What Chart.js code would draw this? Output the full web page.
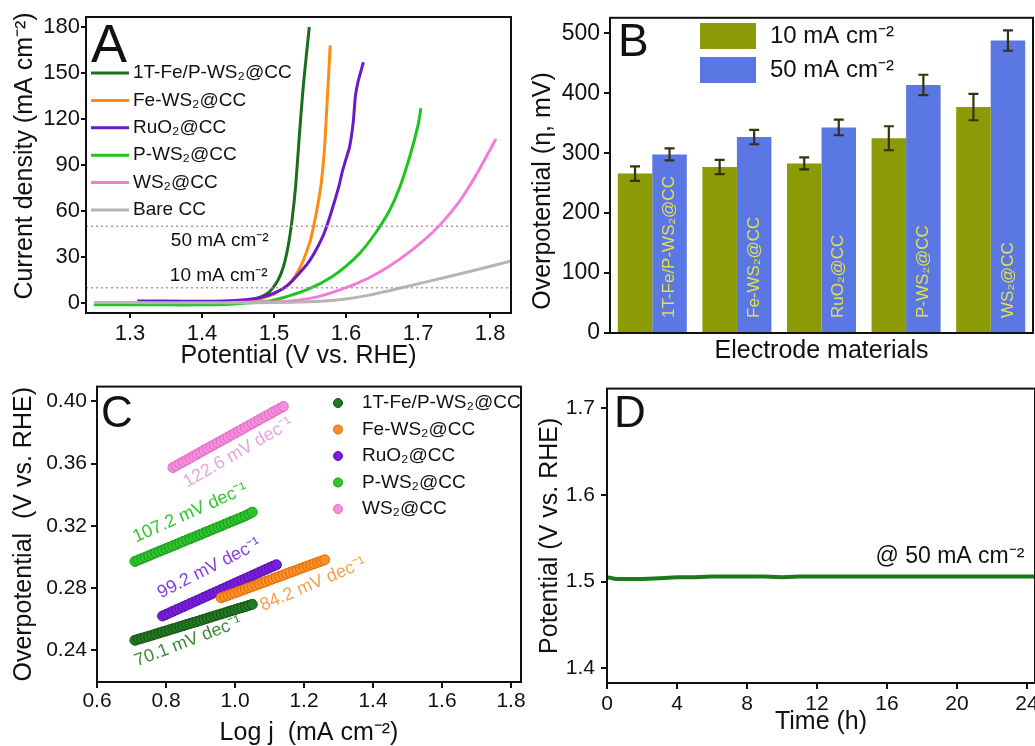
<!DOCTYPE html>
<html>
<head>
<meta charset="utf-8">
<script src="https://cdn.jsdelivr.net/npm/chart.js@4.4.1/dist/chart.umd.min.js"></script>
<style>
  html, body { margin: 0; padding: 0; background: #fff; }
  #fig { position: relative; width: 1035px; height: 746px; overflow: hidden; }
  canvas { position: absolute; }
</style>
</head>
<body>
<div id="fig">
  <canvas id="chartA" width="520" height="370" style="left:0;top:0"></canvas>
  <canvas id="chartB" width="515" height="370" style="left:520px;top:0"></canvas>
  <canvas id="chartC" width="530" height="376" style="left:0;top:370px"></canvas>
  <canvas id="chartD" width="515" height="376" style="left:530px;top:370px"></canvas>
</div>
<script>
// ========================================
// DATA
// ========================================
const names = ["1T-Fe/P-WS₂@CC", "Fe-WS₂@CC", "RuO₂@CC", "P-WS₂@CC", "WS₂@CC", "Bare CC"];

// --- A : LSV curves (V vs. RHE / mA cm-2)
const aV_FeP = [1.43, 1.45, 1.47, 1.48, 1.49, 1.495, 1.50, 1.505, 1.51, 1.515, 1.52, 1.525, 1.53, 1.535, 1.54, 1.545, 1.549];
const aJ_FeP = [0.3, 0.9, 2.2, 3.6, 6.0, 8.0, 10.8, 14.5, 19.5, 27, 38, 54, 76, 108, 138, 162, 180];
const aV_Fe = [1.44, 1.46, 1.48, 1.50, 1.51, 1.52, 1.53, 1.54, 1.55, 1.555, 1.56, 1.565, 1.57, 1.573, 1.576, 1.578];
const aJ_Fe = [0.4, 1.2, 2.6, 5.8, 8.6, 12, 18, 27, 40, 50, 62, 76, 100, 125, 150, 168];
const aV_Ru = [1.31, 1.35, 1.40, 1.43, 1.46, 1.48, 1.50, 1.52, 1.54, 1.55, 1.56, 1.57, 1.58, 1.59, 1.595, 1.60, 1.605, 1.61, 1.613, 1.617, 1.62, 1.624];
const aJ_Ru = [1.3, 1.3, 1.2, 1.4, 2.2, 3.4, 6.4, 12, 22, 28, 36, 46, 60, 76, 86, 94, 102, 118, 135, 145, 150, 157];
const aV_P = [1.25, 1.30, 1.35, 1.40, 1.43, 1.46, 1.49, 1.52, 1.55, 1.58, 1.60, 1.62, 1.64, 1.66, 1.675, 1.69, 1.70, 1.704];
const aJ_P = [-1.2, -1.2, -1.2, -1.2, -1.0, 0, 1, 4.5, 9.5, 17, 24, 33, 45, 60, 76, 98, 116, 127];
const aV_WS = [1.44, 1.48, 1.52, 1.56, 1.60, 1.63, 1.66, 1.69, 1.72, 1.74, 1.76, 1.78, 1.80, 1.808];
const aJ_WS = [0.4, 0.6, 1.2, 4, 10, 16, 24, 34, 46, 56, 68, 83, 100, 107];
const aV_CC = [1.25, 1.30, 1.35, 1.40, 1.45, 1.50, 1.55, 1.58, 1.60, 1.63, 1.66, 1.70, 1.74, 1.78, 1.83];
const aJ_CC = [0.3, 0.3, 0.2, 0.2, 0.2, 0.3, 0.8, 1.6, 2.6, 5, 8, 12.5, 17, 21.5, 27.5];
const aRefLevels = [50, 10];
const aXTicks = [1.3, 1.4, 1.5, 1.6, 1.7, 1.8];
const aXLabels = ["1.3", "1.4", "1.5", "1.6", "1.7", "1.8"];
const aYTicks = [0, 30, 60, 90, 120, 150, 180];

// --- B : overpotentials (mV)
const bCats = ["1T-Fe/P-WS₂@CC", "Fe-WS₂@CC", "RuO₂@CC", "P-WS₂@CC", "WS₂@CC"];
const b10 = [266, 277, 283, 325, 377];
const b10Err = [12, 12, 10, 20, 22];
const b50 = [298, 327, 343, 414, 488];
const b50Err = [10, 12, 13, 17, 17];
const bYTicks = [0, 100, 200, 300, 400, 500];

// --- C : Tafel plots (log j / V)
const cL_FeP = [0.71, 0.72, 0.73, 0.74, 0.75, 0.76, 0.77, 0.78, 0.79, 0.80, 0.81, 0.82, 0.83, 0.84, 0.85, 0.86, 0.87, 0.88, 0.89, 0.90, 0.91, 0.92, 0.93, 0.94, 0.95, 0.96, 0.97, 0.98, 0.99, 1.00, 1.01, 1.02, 1.03, 1.04, 1.05];
const cE_FeP = [0.2465, 0.2472, 0.2478, 0.2485, 0.2491, 0.2498, 0.2505, 0.2512, 0.2519, 0.2525, 0.2532, 0.2539, 0.2545, 0.2552, 0.2559, 0.2566, 0.2573, 0.2580, 0.2586, 0.2593, 0.2600, 0.2607, 0.2614, 0.2621, 0.2628, 0.2634, 0.2641, 0.2648, 0.2655, 0.2662, 0.2669, 0.2675, 0.2682, 0.2689, 0.2696];
const cL_Fe = [0.96, 0.97, 0.98, 0.99, 1.00, 1.01, 1.02, 1.03, 1.04, 1.05, 1.06, 1.07, 1.08, 1.09, 1.10, 1.11, 1.12, 1.13, 1.14, 1.15, 1.16, 1.17, 1.18, 1.19, 1.20, 1.21, 1.22, 1.23, 1.24, 1.25, 1.26];
const cE_Fe = [0.2738, 0.2746, 0.2754, 0.2762, 0.2770, 0.2778, 0.2786, 0.2795, 0.2803, 0.2811, 0.2819, 0.2827, 0.2835, 0.2843, 0.2851, 0.2860, 0.2868, 0.2876, 0.2884, 0.2893, 0.2901, 0.2909, 0.2917, 0.2926, 0.2934, 0.2942, 0.2950, 0.2958, 0.2966, 0.2974, 0.2982];
const cL_Ru = [0.79, 0.80, 0.81, 0.82, 0.83, 0.84, 0.85, 0.86, 0.87, 0.88, 0.89, 0.90, 0.91, 0.92, 0.93, 0.94, 0.95, 0.96, 0.97, 0.98, 0.99, 1.00, 1.01, 1.02, 1.03, 1.04, 1.05, 1.06, 1.07, 1.08, 1.09, 1.10, 1.11, 1.12];
const cE_Ru = [0.2621, 0.2631, 0.2641, 0.2651, 0.2661, 0.2671, 0.2681, 0.2691, 0.2701, 0.2711, 0.2721, 0.2731, 0.2741, 0.2751, 0.2761, 0.2771, 0.2781, 0.2791, 0.2801, 0.2811, 0.2821, 0.2831, 0.2841, 0.2851, 0.2861, 0.2871, 0.2881, 0.2891, 0.2901, 0.2911, 0.2921, 0.2931, 0.2941, 0.2950];
const cL_P = [0.71, 0.72, 0.73, 0.74, 0.75, 0.76, 0.77, 0.78, 0.79, 0.80, 0.81, 0.82, 0.83, 0.84, 0.85, 0.86, 0.87, 0.88, 0.89, 0.90, 0.91, 0.92, 0.93, 0.94, 0.95, 0.96, 0.97, 0.98, 0.99, 1.00, 1.01, 1.02, 1.03, 1.04, 1.05];
const cE_P = [0.2972, 0.2981, 0.2990, 0.2999, 0.3008, 0.3018, 0.3027, 0.3036, 0.3045, 0.3054, 0.3063, 0.3072, 0.3081, 0.3091, 0.3100, 0.3109, 0.3118, 0.3127, 0.3136, 0.3145, 0.3155, 0.3164, 0.3173, 0.3182, 0.3191, 0.3200, 0.3210, 0.3219, 0.3228, 0.3237, 0.3246, 0.3255, 0.3265, 0.3276, 0.3288];
const cL_WS = [0.82, 0.83, 0.84, 0.85, 0.86, 0.87, 0.88, 0.89, 0.90, 0.91, 0.92, 0.93, 0.94, 0.95, 0.96, 0.97, 0.98, 0.99, 1.00, 1.01, 1.02, 1.03, 1.04, 1.05, 1.06, 1.07, 1.08, 1.09, 1.10, 1.11, 1.12, 1.13, 1.14];
const cE_WS = [0.3575, 0.3587, 0.3600, 0.3612, 0.3624, 0.3636, 0.3649, 0.3661, 0.3673, 0.3686, 0.3698, 0.3710, 0.3722, 0.3735, 0.3747, 0.3759, 0.3771, 0.3784, 0.3796, 0.3808, 0.3820, 0.3833, 0.3845, 0.3857, 0.3869, 0.3882, 0.3894, 0.3906, 0.3918, 0.3931, 0.3943, 0.3955, 0.3967];
const cSlopes = ["70.1 mV dec⁻¹", "84.2 mV dec⁻¹", "99.2 mV dec⁻¹", "107.2 mV dec⁻¹", "122.6 mV dec⁻¹"];
const cXTicks = [0.6, 0.8, 1.0, 1.2, 1.4, 1.6, 1.8];
const cXLabels = ["0.6", "0.8", "1.0", "1.2", "1.4", "1.6", "1.8"];
const cYTicks = [0.24, 0.28, 0.32, 0.36, 0.40];
const cYLabels = ["0.24", "0.28", "0.32", "0.36", "0.40"];

// --- D : chronopotentiometry @ 50 mA cm-2
const dT = [0, 0.5, 1, 2, 3, 4, 5, 6, 7, 8, 9, 10, 11, 12, 13, 14, 15, 16, 17, 18, 19, 20, 21, 22, 23, 24, 24.5];
const dV = [1.505, 1.503, 1.503, 1.503, 1.504, 1.505, 1.505, 1.506, 1.506, 1.506, 1.506, 1.505, 1.506, 1.506, 1.506, 1.506, 1.506, 1.506, 1.506, 1.506, 1.506, 1.506, 1.506, 1.506, 1.506, 1.506, 1.506];
const dXTicks = [0, 4, 8, 12, 16, 20, 24];
const dYTicks = [1.4, 1.5, 1.6, 1.7];
const dYLabels = ["1.4", "1.5", "1.6", "1.7"];

// ========================================
// STYLE
// ========================================
const FONT = "'Liberation Sans', Arial, Helvetica, sans-serif";
const INK = "#111";
const lineCols = ["#1b6e1f", "#ff8c12", "#6a1acb", "#1fc41f", "#f27cd8", "#b5b5b5"];
const dotCols = ["#237a23", "#ff8f2a", "#7a1fd8", "#2ec42e", "#f590dc"];
const dotEdges = ["#124d12", "#dd6a00", "#560fae", "#169816", "#e266c4"];
const slopeCols = ["#3d8a3d", "#f5a24c", "#8b3ee0", "#2fc52f", "#e6a6de"];
const olive = "#8c9a06", blue = "#5b77e4";

Chart.defaults.font.family = FONT;
Chart.defaults.color = INK;
Chart.defaults.animation = false;

const pts = (xs, ys) => xs.map((x, i) => ({ x: x, y: ys[i] }));

// axe lineaire avec ticks imposes
function axis(cfg) {
    return {
        type: "linear",
        min: cfg.min,
        max: cfg.max,
        afterBuildTicks: s => { s.ticks = cfg.ticks.map(v => ({ value: v })); },
        afterFit: s => { if (s.isHorizontal()) s.height = cfg.size; else s.width = cfg.size; },
        grid: { display: true, drawOnChartArea: false, drawTicks: true, tickLength: cfg.tick || 5, tickWidth: 2, lineWidth: 2, color: INK },
        border: { display: true, width: 2, color: INK },
        ticks: {
            font: { size: cfg.font || 20 },
            padding: cfg.pad || 2,
            autoSkip: false,
            maxRotation: 0,
            color: INK,
            callback: (v, i) => (cfg.labels ? cfg.labels[i] : String(v))
        },
        title: cfg.title ? {
            display: true,
            text: cfg.title,
            font: { size: 25, lineHeight: 1 },
            padding: cfg.titlePad || { top: 0, bottom: 0 },
            color: INK
        } : { display: false }
    };
}

// ========================================
// PLUGINS
// ========================================
const decor = {
    id: "decor",
    afterDraw(chart, args, opts) {
        const { ctx, chartArea: ca, scales } = chart;
        ctx.save();
        ctx.strokeStyle = INK;
        ctx.lineWidth = 2;
        ctx.strokeRect(ca.left, ca.top, ca.right - ca.left, ca.bottom - ca.top);

        (opts.texts || []).forEach(t => {
            let x = t.x, y = t.y;
            if (t.data) { x = scales.x.getPixelForValue(t.x); y = scales.y.getPixelForValue(t.y); }
            ctx.save();
            ctx.translate(x, y);
            ctx.rotate((t.rot || 0) * Math.PI / 180);
            ctx.font = t.font;
            ctx.fillStyle = t.color || INK;
            ctx.textAlign = t.align || "center";
            ctx.textBaseline = t.baseline || "middle";
            ctx.fillText(t.text, 0, 0);
            ctx.restore();
        });

        const L = opts.legend;
        if (L) {
            ctx.font = L.font;
            ctx.textAlign = "left";
            ctx.textBaseline = "middle";
            L.items.forEach((it, k) => {
                const y = L.y + k * L.dy;
                if (L.kind === "line") {
                    ctx.strokeStyle = it.color;
                    ctx.lineWidth = 3;
                    ctx.beginPath(); ctx.moveTo(L.x, y); ctx.lineTo(L.x + L.w, y); ctx.stroke();
                } else if (L.kind === "box") {
                    ctx.fillStyle = it.color;
                    ctx.fillRect(L.x, y - L.h / 2, L.w, L.h);
                } else {
                    ctx.fillStyle = it.color;
                    ctx.strokeStyle = it.edge;
                    ctx.lineWidth = 1;
                    ctx.beginPath(); ctx.arc(L.x + L.w / 2, y, 4.5, 0, Math.PI * 2); ctx.fill(); ctx.stroke();
                }
                ctx.fillStyle = INK;
                ctx.fillText(it.label, L.x + L.w + L.gap, y);
            });
        }
        ctx.restore();
    }
};

// barres d'erreur + etiquettes dans les barres (panel B)
const barExtras = {
    id: "barExtras",
    afterDatasetsDraw(chart) {
        const { ctx, scales: { y } } = chart;
        ctx.save();
        chart.data.datasets.forEach((ds, i) => {
            const meta = chart.getDatasetMeta(i);
            meta.data.forEach((bar, j) => {
                if (ds.errors) {
                    const top = y.getPixelForValue(ds.data[j] + ds.errors[j]);
                    const bot = y.getPixelForValue(ds.data[j] - ds.errors[j]);
                    ctx.strokeStyle = "#33330f";
                    ctx.lineWidth = 2.2;
                    ctx.beginPath();
                    ctx.moveTo(bar.x, top); ctx.lineTo(bar.x, bot);
                    ctx.moveTo(bar.x - 5, top); ctx.lineTo(bar.x + 5, top);
                    ctx.moveTo(bar.x - 5, bot); ctx.lineTo(bar.x + 5, bot);
                    ctx.stroke();
                }
                if (ds.inner) {
                    ctx.save();
                    ctx.translate(bar.x, y.bottom - 15);
                    ctx.rotate(-Math.PI / 2);
                    ctx.font = "17px " + FONT;
                    ctx.fillStyle = "#e2e04a";
                    ctx.textAlign = "left";
                    ctx.textBaseline = "middle";
                    ctx.fillText(ds.inner[j], 0, 0);
                    ctx.restore();
                }
            });
        });
        ctx.restore();
    }
};

// ========================================
// A
// ========================================
const aCurves = [[aV_FeP, aJ_FeP], [aV_Fe, aJ_Fe], [aV_Ru, aJ_Ru], [aV_P, aJ_P], [aV_WS, aJ_WS], [aV_CC, aJ_CC]];
const aMin = 1.239, aMax = 1.829;

new Chart(document.getElementById("chartA"), {
    type: "scatter",
    data: {
        datasets: aRefLevels.map(l => ({
            data: [{ x: aMin, y: l }, { x: aMax, y: l }],
            showLine: true, borderColor: "#c48ad0", borderWidth: 1.5, borderDash: [2, 3], pointRadius: 0
        })).concat(aCurves.slice().reverse().map((c, k) => ({
            data: pts(c[0], c[1]),
            showLine: true,
            borderColor: lineCols[5 - k],
            borderWidth: 3,
            pointRadius: 0,
            tension: 0.2
        })))
    },
    options: {
        responsive: false,
        devicePixelRatio: 1,
        layout: { padding: { top: 17, right: 9, left: 0, bottom: 0 } },
        plugins: {
            legend: { display: false },
            tooltip: { enabled: false },
            decor: {
                texts: [
                    { text: "A", x: 91, y: 62, font: "54px " + FONT, align: "left", baseline: "alphabetic" },
                    { text: "Current density (mA cm⁻²)", x: 25, y: 156, rot: -90, font: "25px " + FONT },
                    { text: "50 mA cm⁻²", x: 1.4247, y: 40.4, data: true, font: "19px " + FONT },
                    { text: "10 mA cm⁻²", x: 1.4233, y: 17.6, data: true, font: "19px " + FONT }
                ],
                legend: {
                    kind: "line", x: 91, y: 73, dy: 27.4, w: 38, gap: 4, font: "19px " + FONT,
                    items: names.map((n, i) => ({ label: n, color: lineCols[i] }))
                }
            }
        },
        scales: {
            x: axis({ min: aMin, max: aMax, ticks: aXTicks, labels: aXLabels, size: 57, font: 22, pad: 3,
                title: "Potential (V vs. RHE)", titlePad: { top: 0, bottom: 1 } }),
            y: axis({ min: -6.5, max: 186.5, ticks: aYTicks, size: 86, font: 22, pad: 1 })
        }
    },
    plugins: [decor]
});

// ========================================
// B
// ========================================
new Chart(document.getElementById("chartB"), {
    type: "bar",
    data: {
        labels: bCats,
        datasets: [
            { data: b10, errors: b10Err, backgroundColor: olive },
            { data: b50, errors: b50Err, inner: bCats, backgroundColor: blue }
        ]
    },
    options: {
        responsive: false,
        devicePixelRatio: 1,
        categoryPercentage: 0.816,
        barPercentage: 1,
        layout: { padding: { top: 15, right: 2, left: 0, bottom: 0 } },
        plugins: {
            legend: { display: false },
            tooltip: { enabled: false },
            decor: {
                texts: [
                    { text: "B", x: 98, y: 56, font: "46px " + FONT, align: "left", baseline: "alphabetic" },
                    { text: "Overpotential (η, mV)", x: 23, y: 191, rot: -90, font: "25px " + FONT }
                ],
                legend: {
                    kind: "box", x: 180, y: 36, dy: 34, w: 56, h: 26, gap: 14, font: "24px " + FONT,
                    items: [{ label: "10 mA cm⁻²", color: olive }, { label: "50 mA cm⁻²", color: blue }]
                }
            }
        },
        scales: {
            x: {
                type: "category",
                afterFit: s => { s.height = 37; },
                grid: { display: false },
                border: { display: true, width: 2, color: INK },
                ticks: { display: false },
                title: { display: true, text: "Electrode materials", font: { size: 25, lineHeight: 1 }, padding: { top: 0, bottom: 6 }, color: INK }
            },
            y: axis({ min: 0, max: 526, ticks: bYTicks, size: 90, font: 23, pad: 4, tick: 6 })
        }
    },
    plugins: [barExtras, decor]
});

// ========================================
// C
// ========================================
const cSets = [[cL_FeP, cE_FeP], [cL_Fe, cE_Fe], [cL_Ru, cE_Ru], [cL_P, cE_P], [cL_WS, cE_WS]];
const cLabelPos = [
    { x: 0.864, y: 0.2457, rot: -21 },
    { x: 1.226, y: 0.2825, rot: -23 },
    { x: 0.925, y: 0.2927, rot: -27 },
    { x: 0.870, y: 0.3283, rot: -24 },
    { x: 1.009, y: 0.3670, rot: -30 }
];

new Chart(document.getElementById("chartC"), {
    type: "scatter",
    data: {
        datasets: cSets.map((s, i) => ({
            data: pts(s[0], s[1]),
            pointRadius: 5,
            pointBackgroundColor: dotCols[i],
            pointBorderColor: dotEdges[i],
            pointBorderWidth: 1
        })).concat(cSets.map(s => ({
            data: [{ x: s[0][0], y: s[1][0] }, { x: s[0][s[0].length - 1], y: s[1][s[1].length - 1] }],
            showLine: true,
            borderColor: "#b4372a",
            borderWidth: 1.2,
            pointRadius: 0
        })))
    },
    options: {
        responsive: false,
        devicePixelRatio: 1,
        layout: { padding: { top: 13, right: 9, left: 0, bottom: 0 } },
        plugins: {
            legend: { display: false },
            tooltip: { enabled: false },
            decor: {
                texts: [{ text: "C", x: 101, y: 57, font: "44px " + FONT, align: "left", baseline: "alphabetic" }]
                    .concat(cSlopes.map((t, i) => ({
                        text: t, x: cLabelPos[i].x, y: cLabelPos[i].y, rot: cLabelPos[i].rot,
                        data: true, color: slopeCols[i], font: "18px " + FONT
                    }))),
                legend: {
                    kind: "dot", x: 333, y: 33, dy: 26.5, w: 10, gap: 19, font: "19px " + FONT,
                    items: names.slice(0, 5).map((n, i) => ({ label: n, color: dotCols[i], edge: dotEdges[i] }))
                }
            }
        },
        scales: {
            x: axis({ min: 0.6, max: 1.829, ticks: cXTicks, labels: cXLabels, size: 64, font: 21, pad: 1, tick: 6,
                title: "Log j  (mA cm⁻²)", titlePad: { top: 0, bottom: 0 } }),
            y: axis({ min: 0.2197, max: 0.4095, ticks: cYTicks, labels: cYLabels, size: 97, font: 21, pad: 4, tick: 6,
                title: "Overpotential  (V vs. RHE)", titlePad: { top: 12, bottom: 0 } })
        }
    },
    plugins: [decor]
});

// ========================================
// D
// ========================================
new Chart(document.getElementById("chartD"), {
    type: "scatter",
    data: {
        datasets: [{
            data: pts(dT, dV),
            showLine: true,
            borderColor: "#1a7a1a",
            borderWidth: 4,
            pointRadius: 0
        }]
    },
    options: {
        responsive: false,
        devicePixelRatio: 1,
        layout: { padding: { top: 15, right: 10, left: 0, bottom: 0 } },
        plugins: {
            legend: { display: false },
            tooltip: { enabled: false },
            decor: {
                texts: [
                    { text: "D", x: 84, y: 57, font: "44px " + FONT, align: "left", baseline: "alphabetic" },
                    { text: "@ 50 mA cm⁻²", x: 19.6, y: 1.5289, data: true, font: "23px " + FONT }
                ]
            }
        },
        scales: {
            x: axis({ min: 0, max: 24.46, ticks: dXTicks, size: 63, font: 21, pad: 3, tick: 6,
                title: "Time (h)", titlePad: { top: 0, bottom: 11 } }),
            y: axis({ min: 1.383, max: 1.7228, ticks: dYTicks, labels: dYLabels, size: 77, font: 21, pad: 6, tick: 6,
                title: "Potential (V vs. RHE)", titlePad: { top: 8, bottom: 0 } })
        }
    },
    plugins: [decor]
});
</script>
</body>
</html>
